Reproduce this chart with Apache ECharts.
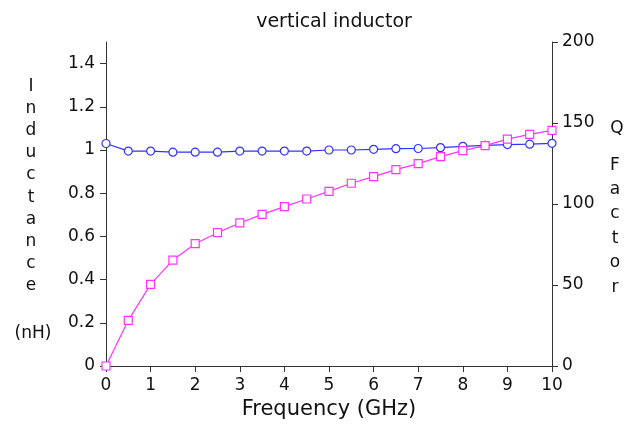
<!DOCTYPE html>
<html>
<head>
<meta charset="utf-8">
<script src="https://cdn.jsdelivr.net/npm/echarts@6/dist/echarts.min.js"></script>
<style>html,body{margin:0;padding:0;background:#fff}#c{width:632px;height:425px}</style>
</head>
<body>
<div id="c"></div>
<script>
var freq = [0,0.5,1,1.5,2,2.5,3,3.5,4,4.5,5,5.5,6,6.5,7,7.5,8,8.5,9,9.5,10];
var inductance = [1.03,0.995,0.995,0.99,0.99,0.99,0.995,0.995,0.995,0.995,1.0,1.0,1.003,1.006,1.007,1.011,1.017,1.021,1.025,1.027,1.031];
var qFactor = [0,28.2,50.4,65.4,75.5,82.3,88.3,93.6,98.4,103.1,107.8,112.8,116.9,121.2,124.9,129.2,132.9,136,140,143,145.5];
var leftTicks = [0,0.2,0.4,0.6,0.8,1,1.2,1.4];
var rightTicks = [0,50,100,150,200];
var xTicks = [0,1,2,3,4,5,6,7,8,9,10];

var font = 'DejaVu Sans, Verdana, sans-serif';
var ink = '#111';
var chart = echarts.init(document.getElementById('c'));
function pairs(xs, ys){ return xs.map(function(x,i){return [x, ys[i]];}); }
var axisLine = {show:true, lineStyle:{color:'#333', width:1}};
chart.setOption({
  animation:false,
  title:{text:'vertical inductor', left:329, top:8, textAlign:'center',
    textStyle:{fontFamily:font, fontSize:19, fontWeight:'normal', color:ink}},
  grid:{left:106, right:80, top:42, bottom:59},
  xAxis:{type:'value', min:0, max:10,
    name:'Frequency (GHz)', nameLocation:'middle', nameGap:31,
    nameTextStyle:{fontFamily:font, fontSize:21, color:ink},
    axisLine:axisLine, axisTick:{show:true, length:6, lineStyle:{color:'#333'}, customValues:xTicks},
    axisLabel:{fontFamily:font, fontSize:17, color:ink, margin:11, customValues:xTicks},
    splitLine:{show:false}},
  yAxis:[
    {type:'value', min:0, max:1.5, position:'left',
      axisLine:axisLine,
      axisTick:{show:true, length:6, lineStyle:{color:'#333'}, customValues:leftTicks},
      axisLabel:{fontFamily:font, fontSize:17, color:ink, margin:11, customValues:leftTicks},
      splitLine:{show:false}},
    {type:'value', min:0, max:200, position:'right',
      axisLine:axisLine,
      axisTick:{show:true, length:6, lineStyle:{color:'#333'}, customValues:rightTicks},
      axisLabel:{fontFamily:font, fontSize:17, color:ink, margin:10, customValues:rightTicks},
      splitLine:{show:false}}
  ],
  graphic:[
    {type:'text', x:31, y:75, style:{text:'I\nn\nd\nu\nc\nt\na\nn\nc\ne', fontFamily:font, fontSize:17, lineHeight:22.2, fill:ink, align:'center'}},
    {type:'text', x:33, y:325, style:{text:'(nH)', fontFamily:font, fontSize:17, fill:ink, align:'center'}},
    {type:'text', x:617, y:120, style:{text:'Q', fontFamily:font, fontSize:17, fill:ink, align:'center'}},
    {type:'text', x:615, y:153, style:{text:'F\na\nc\nt\no\nr', fontFamily:font, fontSize:17, lineHeight:24.4, fill:ink, align:'center'}}
  ],
  series:[
    {type:'line', yAxisIndex:0, data:pairs(freq, inductance), symbol:'circle', symbolSize:8,
      lineStyle:{color:'#3333ff', width:1.2}, itemStyle:{color:'#ffffff', borderColor:'#3333ff', borderWidth:1.2}},
    {type:'line', yAxisIndex:1, data:pairs(freq, qFactor), symbol:'rect', symbolSize:8,
      lineStyle:{color:'#ff33ff', width:1.2}, itemStyle:{color:'#ffffff', borderColor:'#ff33ff', borderWidth:1.2}}
  ]
});
</script>
</body>
</html>
